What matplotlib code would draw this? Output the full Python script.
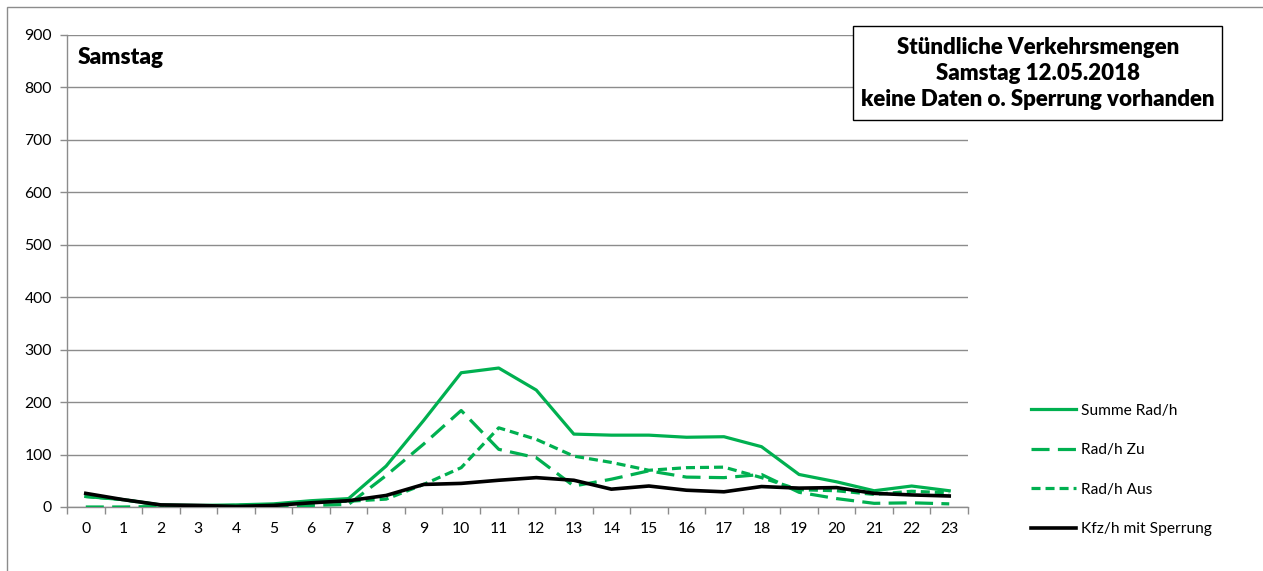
import numpy as np
import matplotlib
matplotlib.use("Agg")
import matplotlib.pyplot as plt
from matplotlib.patches import Rectangle

plt.rcParams['font.family'] = ['Lato', 'DejaVu Sans']
plt.rcParams['lines.scale_dashes'] = False

# stunden und werte
hours = list(range(24))
summe_rad = [20, 14, 4, 3, 4, 6, 12, 16, 78, 165, 256, 265, 223, 139, 137, 137, 133, 134, 115, 62, 48, 31, 40, 31]
rad_zu = [0, 0, 1, 1, 1, 2, 3, 5, 60, 120, 184, 110, 94, 40, 53, 69, 57, 56, 62, 28, 16, 7, 8, 6]
rad_aus = [20, 14, 3, 2, 3, 4, 9, 11, 15, 43, 75, 151, 129, 97, 85, 70, 75, 76, 56, 33, 31, 24, 30, 27]
kfz = [26, 14, 4, 3, 1, 3, 8, 12, 22, 43, 45, 51, 56, 51, 34, 40, 32, 29, 39, 36, 37, 26, 23, 21]
yticks = list(range(0, 901, 100))

green = '#00B050'
grid_col = '#8c8c8c'

W, H = 1263, 571
fig = plt.figure(figsize=(W / 100, H / 100), dpi=100)
ax = fig.add_axes([67 / W, 1 - 507 / H, (968 - 67) / W, (507 - 35) / H])

x = np.array(hours)
ax.plot(x, summe_rad, color=green, lw=2.3, label='Summe Rad/h', zorder=3)
ax.plot(x, rad_zu, color=green, lw=2.3, dashes=(13, 6), label='Rad/h Zu', zorder=3)
ax.plot(x, rad_aus, color=green, lw=2.3, dashes=(6.5, 3.6), label='Rad/h Aus', zorder=3)
ax.plot(x, kfz, color='black', lw=2.6, label='Kfz/h mit Sperrung', zorder=4)

ax.set_xlim(-0.5, 23.5)
ax.set_ylim(0, 900)
ax.set_yticks(yticks)
ax.set_xticks(hours)
ax.set_xticks(np.arange(-0.5, 24, 1), minor=True)
ax.tick_params(axis='x', which='major', length=0, pad=11, labelsize=11.3)
ax.tick_params(axis='x', which='minor', length=5, color=grid_col, width=1)
ax.tick_params(axis='y', length=5, color=grid_col, width=1, pad=6, labelsize=11.3)
ax.grid(axis='y', color=grid_col, lw=1)
ax.set_axisbelow(True)
for s in ['top', 'right']:
    ax.spines[s].set_visible(False)
for s in ['left', 'bottom']:
    ax.spines[s].set_color(grid_col)
    ax.spines[s].set_linewidth(1)

ax.text(78 / W, 1 - 57 / H, 'Samstag', transform=fig.transFigure, fontsize=16.3,
        fontweight='heavy', va='center', ha='left')

# titelbox
fig.patches.append(Rectangle((853 / W, 1 - 120 / H), (1222 - 853) / W, (120 - 26) / H,
                             transform=fig.transFigure, facecolor='white',
                             edgecolor='black', lw=1, zorder=5))
fig.text(1038 / W, 1 - 73.5 / H,
         'Stündliche Verkehrsmengen\nSamstag 12.05.2018\nkeine Daten o. Sperrung vorhanden',
         ha='center', va='center', fontsize=16, fontweight='heavy', linespacing=1.3, zorder=6)

# aeusserer rahmen
fig.patches.append(Rectangle((7 / W, -0.1), 1.2, (H - 7) / H + 0.1, transform=fig.transFigure,
                             facecolor='none', edgecolor=grid_col, lw=1))

fig.legend(loc='center left', bbox_to_anchor=(1017 / W, 1 - 470 / H), frameon=False,
           fontsize=11.2, handlelength=2.9, labelspacing=1.65, handletextpad=0.3)

fig.savefig('out.png', dpi=100)
